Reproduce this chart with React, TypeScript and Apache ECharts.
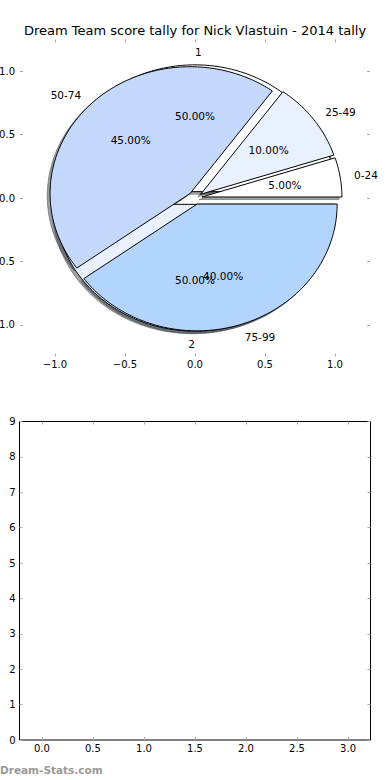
import React, { useEffect, useRef } from 'react';
import * as echarts from 'echarts';

// ---------- data ----------
const titleText = 'Dream Team score tally for Nick Vlastuin - 2014 tally';
const scoreRanges = ['0-24', '25-49', '50-74', '75-99'];
const scoreShares = [5, 10, 45, 40];
const halfLabels = ['1', '2'];
const halfShares = [50, 50];
const pieTicks = [-1, -0.5, 0, 0.5, 1];
const lowerXTicks = [0, 0.5, 1, 1.5, 2, 2.5, 3];
const watermarkText = 'Dream-Stats.com';

// ---------- styles ----------
const sliceColors = ['#ffffff', '#e9f1fe', '#c4d8fc', '#b3d4fd'];
const EXPLODE = 0.05;
const LABEL_DIST = 1.1;
const PCT_DIST = 0.6;
const SHADOW_OFF = -0.02;
const FONT = '"DejaVu Sans", "Liberation Sans", sans-serif';
const TICK_COLOR = '#aaaaaa';

type Wedge = {
  t1: number;
  t2: number;
  ox: number;
  oy: number;
  color: string;
  label: string;
  pct: string;
  lx: number;
  ly: number;
  lAlign: string;
  px: number;
  py: number;
};

function buildWedges(labels: string[], shares: number[]): Wedge[] {
  const total = shares.reduce((a, b) => a + b, 0);
  let acc = 0;
  return shares.map((s, i) => {
    const t1 = (2 * Math.PI * acc) / total;
    acc += s;
    const t2 = (2 * Math.PI * acc) / total;
    const tm = (t1 + t2) / 2;
    const ox = EXPLODE * Math.cos(tm);
    const oy = EXPLODE * Math.sin(tm);
    const lx = ox + LABEL_DIST * Math.cos(tm);
    const ly = oy + LABEL_DIST * Math.sin(tm);
    return {
      t1,
      t2,
      ox,
      oy,
      color: sliceColors[i % sliceColors.length],
      label: labels[i],
      pct: ((s / total) * 100).toFixed(2) + '%',
      lx,
      ly,
      lAlign: lx > 0 ? 'left' : 'right',
      px: ox + PCT_DIST * Math.cos(tm),
      py: oy + PCT_DIST * Math.sin(tm),
    };
  });
}

const wedges: Wedge[] = [
  ...buildWedges(halfLabels, halfShares),
  ...buildWedges(scoreRanges, scoreShares),
];

function shadeOf(hex: string) {
  const r = parseInt(hex.slice(1, 3), 16);
  const g = parseInt(hex.slice(3, 5), 16);
  const b = parseInt(hex.slice(5, 7), 16);
  return `rgba(${Math.round(r * 0.3)},${Math.round(g * 0.3)},${Math.round(b * 0.3)},0.5)`;
}

function wedgePoints(api: any, w: Wedge, dx: number, dy: number) {
  const cx = w.ox + dx;
  const cy = w.oy + dy;
  const pts: number[][] = [api.coord([cx, cy])];
  const n = Math.max(2, Math.ceil((w.t2 - w.t1) / (Math.PI / 180)));
  for (let k = 0; k <= n; k++) {
    const t = w.t1 + ((w.t2 - w.t1) * k) / n;
    pts.push(api.coord([cx + Math.cos(t), cy + Math.sin(t)]));
  }
  return pts;
}

const fmtSigned = (v: number) => v.toFixed(1).replace('-', '\u2212');

function tickAxis(extra: any) {
  return {
    type: 'value',
    axisLine: { show: false, onZero: false },
    splitLine: { show: false },
    axisTick: {
      show: true,
      inside: true,
      length: 3,
      lineStyle: { color: TICK_COLOR, width: 1 },
      ...(extra.tickValues ? { customValues: extra.tickValues } : {}),
    },
    ...extra.axis,
  };
}

export default function App() {
  const ref = useRef<HTMLDivElement>(null);

  useEffect(() => {
    document.body.style.margin = '0';
    if (!ref.current) return;
    const chart = echarts.init(ref.current, undefined, { renderer: 'svg' });

    const labelStyle = { fontSize: 10, color: '#000', fontFamily: FONT };

    const option: any = {
      animation: false,
      backgroundColor: '#ffffff',
      title: {
        text: titleText,
        left: 'center',
        top: 19,
        textStyle: { fontSize: 13, fontWeight: 'normal', color: '#000', fontFamily: FONT },
      },
      grid: [
        {
          left: 20,
          width: 350,
          top: 39.5,
          height: 317,
          show: false,
          containLabel: false,
          outerBoundsMode: 'none',
        },
        {
          left: 19.5,
          width: 351,
          top: 421.5,
          height: 318.5,
          show: true,
          borderColor: '#000',
          borderWidth: 1,
          backgroundColor: 'transparent',
          containLabel: false,
          outerBoundsMode: 'none',
        },
      ],
      xAxis: [
        tickAxis({
          tickValues: pieTicks,
          axis: {
            gridIndex: 0,
            min: -1.25,
            max: 1.25,
            position: 'bottom',
            axisLabel: { ...labelStyle, margin: 3, customValues: pieTicks, formatter: fmtSigned },
          },
        }),
        tickAxis({
          tickValues: pieTicks,
          axis: { gridIndex: 0, min: -1.25, max: 1.25, position: 'top', axisLabel: { show: false } },
        }),
        tickAxis({
          tickValues: lowerXTicks,
          axis: {
            gridIndex: 1,
            min: -0.22,
            max: 3.22,
            position: 'bottom',
            axisLabel: {
              ...labelStyle,
              margin: 3,
              customValues: lowerXTicks,
              formatter: (v: number) => v.toFixed(1),
            },
          },
        }),
        tickAxis({
          tickValues: lowerXTicks,
          axis: { gridIndex: 1, min: -0.22, max: 3.22, position: 'top', axisLabel: { show: false } },
        }),
      ],
      yAxis: [
        tickAxis({
          tickValues: pieTicks,
          axis: {
            gridIndex: 0,
            min: -1.25,
            max: 1.25,
            position: 'left',
            axisLabel: { ...labelStyle, margin: 5, customValues: pieTicks, formatter: fmtSigned },
          },
        }),
        tickAxis({
          tickValues: pieTicks,
          axis: { gridIndex: 0, min: -1.25, max: 1.25, position: 'right', axisLabel: { show: false } },
        }),
        tickAxis({
          axis: {
            gridIndex: 1,
            min: 0,
            max: 9,
            interval: 1,
            position: 'left',
            axisLabel: { ...labelStyle, margin: 4 },
          },
        }),
        tickAxis({
          axis: { gridIndex: 1, min: 0, max: 9, interval: 1, position: 'right', axisLabel: { show: false } },
        }),
      ],
      series: [
        {
          type: 'custom',
          name: 'shadows',
          xAxisIndex: 0,
          yAxisIndex: 0,
          silent: true,
          z: 1,
          data: wedges.map((_, i) => [i]),
          renderItem: (params: any, api: any) => {
            const w = wedges[params.dataIndex];
            const c = shadeOf(w.color);
            return {
              type: 'polygon',
              shape: { points: wedgePoints(api, w, SHADOW_OFF, SHADOW_OFF) },
              style: { fill: c, stroke: c, lineWidth: 1 },
            };
          },
        },
        {
          type: 'custom',
          name: 'wedges',
          xAxisIndex: 0,
          yAxisIndex: 0,
          silent: true,
          z: 2,
          data: wedges.map((_, i) => [i]),
          renderItem: (params: any, api: any) => {
            const w = wedges[params.dataIndex];
            return {
              type: 'polygon',
              shape: { points: wedgePoints(api, w, 0, 0) },
              style: { fill: w.color, stroke: '#000', lineWidth: 1, lineJoin: 'miter' },
            };
          },
        },
        {
          type: 'custom',
          name: 'texts',
          xAxisIndex: 0,
          yAxisIndex: 0,
          silent: true,
          z: 3,
          data: wedges.map((_, i) => [i]),
          renderItem: (params: any, api: any) => {
            const w = wedges[params.dataIndex];
            const lp = api.coord([w.lx, w.ly]);
            const pp = api.coord([w.px, w.py]);
            return {
              type: 'group',
              children: [
                {
                  type: 'text',
                  x: lp[0],
                  y: lp[1],
                  style: {
                    text: w.label,
                    fill: '#000',
                    font: `10.5px ${FONT}`,
                    align: w.lAlign,
                    verticalAlign: 'middle',
                  },
                },
                {
                  type: 'text',
                  x: pp[0],
                  y: pp[1],
                  style: {
                    text: w.pct,
                    fill: '#000',
                    font: `10.5px ${FONT}`,
                    align: 'center',
                    verticalAlign: 'middle',
                  },
                },
              ],
            };
          },
        },
      ],
      graphic: [
        {
          type: 'text',
          left: 0,
          top: 764,
          silent: true,
          style: {
            text: watermarkText,
            fill: '#999999',
            font: `bold 10.5px ${FONT}`,
          },
        },
      ],
    };

    chart.setOption(option);
    return () => chart.dispose();
  }, []);

  return (
    <div
      ref={ref}
      style={{ position: 'absolute', left: 0, top: 0, width: 390, height: 780 }}
    />
  );
}
